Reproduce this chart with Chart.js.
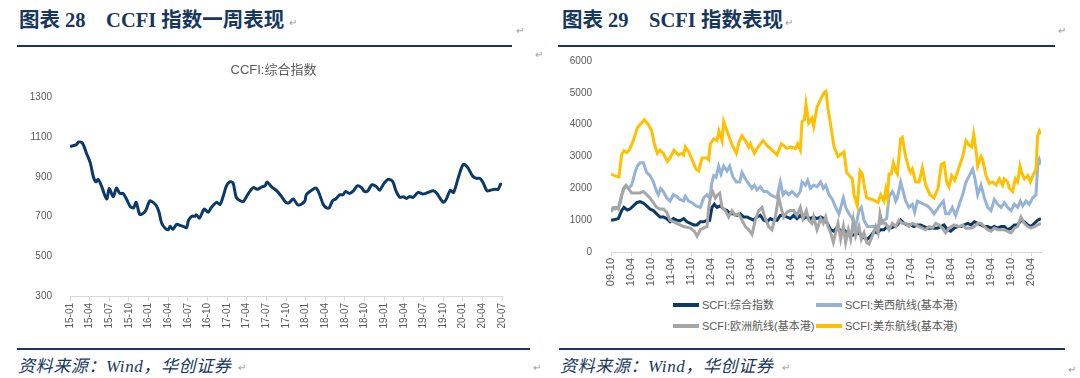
<!DOCTYPE html>
<html>
<head>
<meta charset="utf-8">
<script src="https://cdn.jsdelivr.net/npm/chart.js@4/dist/chart.umd.min.js"></script>
<style>
  html, body { margin:0; padding:0; background:#fff; }
  body { width:1080px; height:378px; position:relative; overflow:hidden; font-family:"Liberation Sans","Noto Sans CJK SC",sans-serif; }
  .hdr { position:absolute; top:8px; font-family:"Liberation Serif","Noto Sans CJK SC",serif; font-weight:bold; font-size:20.5px; color:#17375E; white-space:pre; line-height:24px; }
  .rule { position:absolute; height:2px; background:#17375E; }
  .src { position:absolute; top:356px; font-family:"Liberation Serif","Noto Sans CJK SC",serif; font-style:italic; font-size:17px; color:#17375E; white-space:pre; line-height:22px; letter-spacing:0.6px; }
  .pm { position:absolute; font-size:10px; color:#9a9a9a; line-height:12px; }
  canvas { position:absolute; }
  #legend { position:absolute; left:673px; top:298px; display:grid; grid-template-columns:143px 200px; row-gap:7px; font-size:11px; color:#595959; line-height:14px; }
  #legend .it { display:flex; align-items:center; white-space:nowrap; }
  #legend .sw { width:26px; height:4px; margin-right:3px; }
</style>
</head>
<body>
<div class="hdr" style="left:19px;">图表 28　CCFI 指数一周表现</div>
<div class="hdr" style="left:562px;">图表 29　SCFI 指数表现</div>
<div class="pm" style="left:289px;top:17px;">↵</div>
<div class="pm" style="left:516px;top:25px;">↵</div>
<div class="pm" style="left:785px;top:17px;">↵</div>
<div class="pm" style="left:1058px;top:25px;">↵</div>
<div class="pm" style="left:535px;top:49px;">↵</div>
<div class="rule" style="left:17px;width:495px;top:45px;"></div>
<div class="rule" style="left:558px;width:497px;top:45px;"></div>

<canvas id="c1" width="513" height="290" style="left:17px;top:50px;"></canvas>
<canvas id="c2" width="500" height="252" style="left:555px;top:44px;"></canvas>
<div id="legend"></div>

<div class="rule" style="left:17px;width:513px;top:348px;"></div>
<div class="rule" style="left:559px;width:506px;top:348px;"></div>
<div class="src" style="left:18px;">资料来源：Wind，华创证券</div>
<div class="src" style="left:560px;">资料来源：Wind，华创证券</div>
<div class="pm" style="left:238px;top:362px;">↵</div>
<div class="pm" style="left:533px;top:362px;">↵</div>
<div class="pm" style="left:782px;top:362px;">↵</div>
<div class="pm" style="left:1068px;top:364px;">↵</div>

<script>
// ===== Chart 28: CCFI composite (x = months since 2015-01) =====
const ccfiTitle = 'CCFI:综合指数';
const ccfiMonths = [0,1.0,1.3,1.9,2.5,3.1,3.6,4.0,4.3,4.8,
  5.6,6.0,6.6,7.1,7.6,8.1,8.7,9.2,9.7,10.1,
  10.6,10.9,11.5,12.2,12.7,13.2,13.6,14.0,14.5,15.0,
  15.3,15.7,16.3,16.8,17.3,17.8,18.1,18.6,19.1,19.3,
  19.8,20.5,21.1,21.6,22.4,22.9,23.4,23.9,24.4,24.9,
  25.4,26.0,26.5,27.2,28.0,28.6,29.3,29.8,30.1,30.8,
  31.6,32.3,33.0,33.5,34.1,34.8,35.4,35.9,36.1,36.9,
  37.6,38.1,38.7,39.2,39.6,40.1,40.6,41.2,41.7,42.1,
  42.7,43.3,43.9,44.5,45.0,45.5,46.1,46.8,47.3,47.9,
  48.6,49.3,49.8,50.4,50.9,51.4,51.9,52.4,53.2,53.9,
  54.7,55.5,56.0,56.6,57.1,57.5,58.1,58.6,59.4,60.1,
  60.8,61.5,62.1,62.6,63.1,63.7,64.2,64.9,65.4,65.8,
  66.0];
const ccfiValues = [1054,1063,1076,1071,1021,971,897,875,888,855,
  789,842,800,844,817,817,784,751,744,772,
  714,711,727,780,772,755,722,668,643,634,
  651,636,661,656,651,644,681,702,702,709,
  693,739,722,747,772,761,802,855,875,871,
  797,780,777,814,847,838,850,855,875,850,
  830,802,771,771,789,759,764,780,810,833,
  844,814,761,744,744,780,789,810,810,827,
  817,830,855,847,827,830,860,852,833,864,
  888,877,830,797,800,792,802,797,822,814,
  822,830,819,789,772,789,833,822,905,963,
  946,905,893,893,872,830,833,838,838,864,
  860];
const ccfiStartYear = 15, ccfiStartMonth = 1;   // 15-01
const ccfiTickStep = 3, ccfiMaxMonth = 66;
const ccfiYTicks = [300, 500, 700, 900, 1100, 1300];

// ===== Chart 29: SCFI (x = months since 2009-10), pairs [month, value] =====
const scfiStartYear = 9, scfiStartMonth = 10;  // 09-10
const scfiTickStep = 6, scfiMaxMonth = 129;
const scfiYTicks = [0,1000,2000,3000,4000,5000,6000];
const scfiNames = ['SCFI:综合指数','SCFI:美西航线(基本港)','SCFI:欧洲航线(基本港)','SCFI:美东航线(基本港)'];

const scfiComposite = [[0,1000],[1.2,1020],[2.2,1050],[3.2,1300],[3.9,1400],[4.9,1320],[5.7,1350],[6.7,1450],[7.7,1550],[8.7,1580],
 [9.7,1540],[10.7,1450],[11.7,1350],[12.7,1300],[13.7,1200],[14.7,1100],[15.7,1100],[16.7,1050],[17.7,950],[18.7,1050],
 [19.7,1000],[20.7,980],[21.8,1050],[22.8,950],[23.8,900],[24.8,850],[25.8,850],[26.8,950],[27.8,950],[28.8,1000],
 [29.6,1000],[30.3,1400],[31.0,1500],[31.8,1400],[32.8,1450],[33.8,1350],[34.8,1300],[35.8,1200],[36.8,1200],[37.8,1150],
 [38.8,1200],[39.8,1100],[40.8,1100],[41.8,1050],[42.8,1000],[43.8,1100],[44.8,1150],[45.8,1000],[46.8,950],[47.8,1050],
 [48.8,1000],[49.8,1000],[50.8,1150],[51.8,1150],[52.8,1100],[53.8,1050],[54.8,1150],[55.8,1050],[56.8,1150],[57.8,1050],
 [58.8,1100],[59.8,1050],[60.8,1100],[61.8,1050],[62.9,1100],[63.9,1050],[64.9,900],[65.9,700],[66.9,650],[67.9,800],
 [68.9,650],[69.9,700],[70.9,600],[71.9,500],[72.9,550],[73.9,600],[74.9,550],[75.9,450],[76.9,400],[77.9,500],
 [78.9,650],[79.9,600],[80.9,700],[81.9,700],[82.9,800],[83.9,750],[84.9,800],[85.9,850],[86.9,1000],[87.9,900],
 [88.9,850],[89.9,850],[90.9,800],[91.9,850],[92.9,850],[93.9,800],[94.9,750],[95.9,750],[96.9,750],[97.9,750],
 [98.9,800],[99.9,850],[100.9,700],[101.9,650],[102.9,750],[103.9,800],[105.0,800],[106.0,850],[107.0,900],[108.0,850],
 [109.0,950],[110.0,900],[111.0,850],[112.0,800],[113.0,800],[114.0,750],[115.0,800],[116.0,750],[117.0,800],[118.0,800],
 [119.0,700],[120.0,750],[121.0,850],[122.0,850],[123.0,1000],[124.0,950],[125.0,850],[126.0,800],[127.0,900],[128.0,1000],[129.0,1050]];

const scfiUSWest = [[0,1350],[1.2,1350],[2.2,1400],[3.2,1800],[4.2,2050],[5.2,2000],[6.2,2100],[7.2,2500],[7.9,2700],[8.7,2800],
 [9.7,2800],[10.7,2500],[11.7,2400],[12.7,2200],[13.7,1900],[14.2,1800],[14.9,2000],[15.7,1900],[16.7,1700],[17.7,1600],
 [18.7,1800],[19.7,1750],[20.7,1650],[21.8,1600],[22.3,1750],[23.3,1600],[24.3,1550],[25.5,1450],[26.8,1400],[27.8,1700],
 [28.8,1800],[29.6,1700],[30.3,2200],[30.8,2400],[31.5,2350],[32.3,2700],[33.0,2450],[33.8,2700],[34.8,2550],[35.6,2700],
 [36.6,2350],[37.6,2200],[38.6,2200],[39.3,2500],[40.3,2300],[41.3,2150],[42.3,2000],[43.0,2100],[43.8,1950],[44.8,2050],
 [45.8,1900],[46.8,1900],[47.8,1800],[48.8,1750],[49.8,1700],[50.8,2200],[51.6,1800],[52.3,1900],[53.3,1800],[54.3,1900],
 [55.8,1750],[56.8,1900],[57.3,2200],[58.3,2100],[59.0,2250],[59.8,2000],[60.8,2100],[61.8,2050],[62.9,2200],[63.7,2000],
 [64.4,2100],[65.4,1800],[66.4,1650],[67.4,1400],[68.4,1200],[69.7,1700],[70.4,1400],[71.4,1200],[72.4,1050],[73.4,800],
 [74.4,1300],[75.1,1400],[75.9,1000],[76.9,800],[78.4,800],[79.7,800],[80.9,900],[81.9,1000],[82.7,1050],[83.4,1750],
 [84.4,1900],[84.9,1800],[85.4,1600],[85.9,1700],[86.9,2200],[87.4,2000],[88.4,1600],[89.4,1400],[90.4,1500],[91.1,1250],
 [91.9,1600],[92.9,1550],[93.9,1500],[94.9,1450],[95.9,1350],[96.9,1200],[97.9,1350],[98.9,1500],[99.7,1600],[100.4,1200],
 [101.4,1200],[102.4,1400],[103.4,1150],[104.5,1500],[105.5,1800],[106.5,2200],[107.5,2400],[108.5,2600],[109.2,2300],[110.0,1800],
 [111.0,2100],[112.0,1700],[113.0,1400],[114.0,1300],[115.0,1650],[116.0,1500],[117.0,1400],[118.0,1550],[119.0,1400],[120.0,1300],
 [121.0,1500],[122.0,1400],[122.8,1600],[123.5,1450],[124.5,1600],[125.5,1500],[126.5,1700],[127.5,1800],[128.0,2700],[128.5,2900],[129.0,2750]];

const scfiEurope = [[0,1250],[0.7,1400],[1.7,1400],[2.2,1350],[2.9,1600],[3.7,2000],[4.5,2100],[5.2,2000],[6.2,1850],[7.2,1850],
 [8.7,1850],[9.7,1900],[10.7,1800],[11.7,1700],[12.7,1550],[13.7,1400],[14.7,1350],[15.7,1350],[16.7,1250],[17.7,1000],
 [19.7,900],[21.8,800],[23.8,750],[25.0,650],[25.8,500],[26.8,700],[27.8,750],[28.8,800],[29.3,1400],[29.8,1700],
 [30.5,1900],[31.3,1700],[32.0,1800],[32.6,1850],[33.3,1400],[34.3,1300],[35.3,1100],[36.3,1300],[37.3,1150],[38.3,1200],
 [39.3,1000],[40.3,800],[41.3,700],[42.3,550],[43.3,1000],[44.3,1300],[45.3,1400],[46.3,1050],[47.3,800],[48.3,700],
 [49.3,1100],[50.3,1750],[51.0,1400],[51.8,1100],[52.8,1250],[53.8,1300],[54.8,1300],[55.8,1150],[56.8,1400],[57.6,1050],
 [58.6,1300],[59.3,1000],[60.3,900],[60.8,1100],[61.8,700],[62.9,1050],[63.7,900],[64.4,1100],[65.1,800],[65.9,600],
 [66.7,300],[67.4,600],[68.1,900],[68.9,400],[69.7,800],[70.4,300],[71.2,700],[71.9,400],[72.7,1000],[73.4,500],
 [74.4,800],[75.1,400],[75.9,600],[76.7,300],[77.4,250],[78.4,500],[79.4,800],[80.1,600],[80.7,1200],[81.4,900],
 [82.4,900],[83.4,700],[84.4,900],[85.4,800],[86.4,1000],[87.4,900],[88.4,900],[89.4,800],[90.4,900],[91.4,850],
 [92.4,800],[93.4,750],[94.4,700],[95.4,800],[96.4,750],[97.4,900],[98.4,850],[99.4,750],[100.4,600],[101.4,750],
 [102.9,850],[104.5,800],[105.5,850],[106.5,750],[108.0,750],[109.0,800],[110.0,900],[111.0,900],[112.0,800],[113.0,700],
 [114.0,650],[115.0,750],[116.0,700],[117.0,700],[118.0,700],[119.0,650],[120.0,600],[121.0,750],[122.0,800],[123.0,1100],
 [124.0,900],[125.0,800],[126.0,750],[127.0,800],[128.0,850],[129.0,900]];

const scfiUSEast = [[0,2445],[1.2,2390],[2.4,2360],[3.2,3070],[3.9,3180],[4.7,3125],[5.5,3200],[6.7,3500],[7.9,3900],[8.7,4000],
 [10.0,4150],[11.2,4000],[12.2,3800],[13.0,3400],[13.9,3100],[14.7,3200],[15.7,3100],[16.9,2850],[17.7,2950],[18.9,3200],
 [20.2,3050],[21.3,3100],[21.8,3050],[22.3,3300],[23.3,3150],[24.3,2900],[25.5,2600],[26.3,2550],[27.3,2950],[28.8,2950],
 [29.3,2900],[29.8,3400],[30.8,3550],[31.8,3500],[32.4,3800],[33.3,3500],[33.8,4100],[34.8,3800],[35.5,3600],[36.6,3300],
 [37.6,3100],[38.4,3450],[39.3,3650],[40.3,3500],[41.3,3300],[41.8,3400],[43.0,3100],[43.8,3250],[45.6,3500],[46.8,3350],
 [48.3,3200],[49.8,3050],[51.1,3400],[51.8,3350],[52.8,3250],[53.8,3300],[55.3,3250],[56.0,3400],[56.8,3200],[57.3,4100],
 [58.0,4150],[58.5,4650],[59.3,4050],[60.3,4200],[60.8,3950],[61.8,4550],[62.9,4800],[63.9,5000],[64.5,5050],[65.1,4500],
 [65.9,4000],[66.9,3300],[68.1,3000],[69.9,3150],[70.7,2500],[71.9,2350],[72.4,2300],[72.9,1800],[73.9,1450],[74.7,2550],
 [75.4,2450],[76.1,2000],[76.7,1700],[78.4,1650],[80.1,1550],[80.9,1800],[81.9,1600],[82.4,1950],[82.9,1700],[83.4,2450],
 [84.1,2450],[84.7,2800],[85.4,2550],[85.9,2450],[86.9,3550],[87.4,3600],[88.4,3000],[89.4,2600],[89.9,2500],[90.4,2600],
 [91.4,2200],[92.4,2200],[93.4,2650],[94.4,2100],[95.7,1800],[96.9,1700],[98.1,2000],[99.1,2750],[99.9,2800],[100.7,2200],
 [101.4,2050],[102.2,2400],[103.1,2250],[103.9,2500],[105.5,3000],[106.5,3500],[107.5,3350],[108.2,3300],[108.8,3700],[109.5,3200],
 [110.0,2700],[111.0,3000],[111.5,2900],[112.5,2400],[113.5,2150],[114.5,2200],[115.5,2100],[116.5,2300],[117.5,2100],[118.0,2300],
 [119.0,2200],[119.5,2000],[120.5,1900],[121.3,2300],[122.0,2200],[122.7,2700],[123.2,2500],[124.0,2300],[125.0,2400],[125.8,2200],
 [126.8,2450],[127.5,2600],[128.0,3650],[128.5,3800],[129.0,3700]];

const scfiColors = ['#0B3A6A', '#95B3D7', '#A6A6A6', '#FFC000'];

// ===== helpers =====
Chart.defaults.font.family = '"Liberation Sans","Noto Sans CJK SC",sans-serif';
Chart.defaults.color = '#595959';
function monthLabel(startY, startM, v) {
  const total = (startM - 1) + Math.round(v);
  const y = startY + Math.floor(total / 12);
  const m = total % 12 + 1;
  return String(y).padStart(2, '0') + '-' + String(m).padStart(2, '0');
}
const toXY = pairs => pairs.map(p => ({ x: p[0], y: p[1] }));

// ===== Chart 28 =====
new Chart(document.getElementById('c1'), {
  type: 'line',
  data: {
    datasets: [{
      label: ccfiTitle,
      data: ccfiMonths.map((m, i) => ({ x: m, y: ccfiValues[i] })),
      borderColor: '#0B3A6A', borderWidth: 3, pointRadius: 0, tension: 0.3, fill: false
    }]
  },
  options: {
    responsive: false, animation: false, devicePixelRatio: 1,
    layout: { padding: { left: 0, right: 0, top: 0, bottom: 0 } },
    plugins: {
      legend: { display: false }, tooltip: { enabled: false },
      title: { display: true, text: ccfiTitle, color: '#595959', font: { size: 13, weight: 'normal' }, padding: { top: 13, bottom: 19 } }
    },
    scales: {
      x: {
        type: 'linear', min: 0, max: ccfiMaxMonth,
        afterFit: s => { s.height = 44; },
        ticks: { stepSize: ccfiTickStep, autoSkip: false, maxRotation: 90, minRotation: 90, includeBounds: false,
                 font: { size: 10 }, color: '#595959', padding: 2,
                 callback: v => monthLabel(ccfiStartYear, ccfiStartMonth, v) },
        grid: { display: true, drawOnChartArea: false, tickLength: 5, color: '#D9D9D9' },
        border: { display: true, color: '#D9D9D9', width: 1 }
      },
      y: {
        min: ccfiYTicks[0], max: ccfiYTicks[ccfiYTicks.length - 1],
        afterFit: s => { s.width = 53; },
        afterBuildTicks: s => { s.ticks = ccfiYTicks.map(v => ({ value: v })); },
        ticks: { font: { size: 10 }, color: '#595959', padding: 10, callback: v => String(v) },
        grid: { display: false }, border: { display: false }
      },
      yRight: {
        position: 'right', display: true,
        afterFit: s => { s.width = 28; },
        ticks: { display: false }, grid: { display: false }, border: { display: false }
      }
    }
  }
});

// ===== Chart 29 =====
const scfiSeries = [scfiComposite, scfiUSWest, scfiEurope, scfiUSEast];
const chart2 = new Chart(document.getElementById('c2'), {
  type: 'line',
  data: {
    datasets: scfiSeries.map((s, i) => ({
      label: scfiNames[i], data: toXY(s),
      borderColor: scfiColors[i], backgroundColor: scfiColors[i],
      borderWidth: 3, pointRadius: 0, tension: 0, fill: false,
      order: scfiSeries.length - i
    }))
  },
  options: {
    responsive: false, animation: false, devicePixelRatio: 1,
    layout: { padding: { left: 0, right: 14, top: 0, bottom: 0 } },
    plugins: { legend: { display: false }, tooltip: { enabled: false }, title: { display: false } },
    scales: {
      x: {
        type: 'linear', min: 0, max: scfiMaxMonth,
        afterFit: s => { s.height = 44; },
        ticks: { stepSize: scfiTickStep, autoSkip: false, maxRotation: 90, minRotation: 90, includeBounds: false,
                 font: { size: 11 }, color: '#595959', padding: 2,
                 callback: v => monthLabel(scfiStartYear, scfiStartMonth, v) },
        grid: { display: true, drawOnChartArea: false, tickLength: 4, color: '#D9D9D9' },
        border: { display: true, color: '#D9D9D9', width: 1 }
      },
      y: {
        min: scfiYTicks[0], max: scfiYTicks[scfiYTicks.length - 1],
        afterFit: s => { s.width = 56; },
        afterBuildTicks: s => { s.ticks = scfiYTicks.map(v => ({ value: v })); },
        ticks: { font: { size: 10 }, color: '#595959', padding: 11, callback: v => String(v) },
        grid: { display: false }, border: { display: false }
      }
    }
  }
});

// HTML legend built from the chart's datasets (2 aligned columns)
const legendEl = document.getElementById('legend');
chart2.data.datasets.forEach(ds => {
  const it = document.createElement('div'); it.className = 'it';
  const sw = document.createElement('span'); sw.className = 'sw'; sw.style.background = ds.borderColor;
  const tx = document.createElement('span'); tx.textContent = ds.label;
  it.appendChild(sw); it.appendChild(tx); legendEl.appendChild(it);
});
</script>
</body>
</html>
